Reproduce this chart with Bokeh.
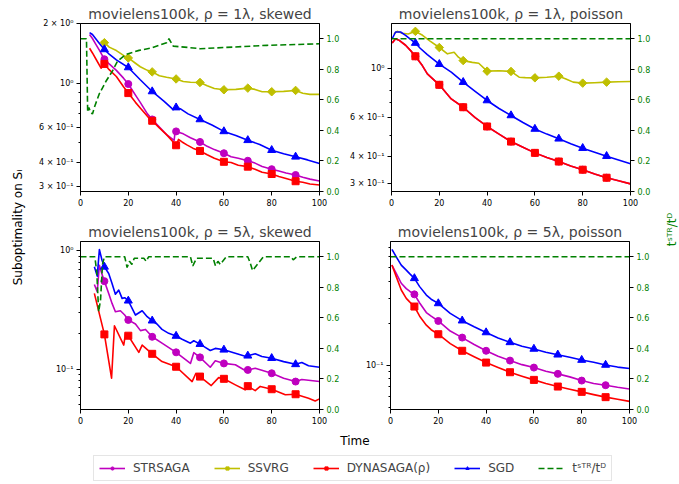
import numpy as np
from bokeh.plotting import figure
from bokeh.models import (Range1d, LinearAxis, LinearScale, FixedTicker, PrintfTickFormatter,
                          Legend, LegendItem)
from bokeh.layouts import row, column
from bokeh.embed import file_html
from bokeh.resources import INLINE
from bokeh.core.properties import value

FONT = "DejaVu Sans"
C_STR, C_SVRG, C_DYN, C_SGD, C_RATIO = "#bf00bf", "#bfbf00", "#ff0000", "#0000ff", "#008000"

TITLES = ["movielens100k, ρ = 1λ, skewed", "movielens100k, ρ = 1λ, poisson",
          "movielens100k, ρ = 5λ, skewed", "movielens100k, ρ = 5λ, poisson"]
XTICKS = [0, 20, 40, 60, 80, 100]
RTICKS = [0.0, 0.2, 0.4, 0.6, 0.8, 1.0]

# ---------------- top-left: rho=1, skewed ----------------
TL_STR_X = [3.8, 5, 6.3, 8, 10, 12, 15, 18, 20, 23, 25, 28, 30, 33, 36, 39.2, 39.6, 40, 43, 46, 50, 53, 56, 60, 63, 66, 70, 73, 76, 80, 83, 86, 90, 93, 96, 100]
TL_STR_Y = [1.76, 1.68, 1.58, 1.46, 1.32, 1.25, 1.16, 1.06, 0.99, 0.87, 0.80, 0.70, 0.656, 0.60, 0.55, 0.515, 0.573, 0.571, 0.555, 0.53, 0.505, 0.48, 0.462, 0.443, 0.425, 0.418, 0.406, 0.395, 0.38, 0.368, 0.36, 0.352, 0.344, 0.335, 0.328, 0.321]
TL_SVRG_X = [8.5, 10, 12, 15, 18, 20, 23, 25, 28, 30, 33, 36, 40, 43, 46, 50, 53, 56, 60, 65, 70, 73, 76, 80, 85, 90, 93, 96, 100]
TL_SVRG_Y = [1.63, 1.60, 1.52, 1.46, 1.38, 1.34, 1.26, 1.21, 1.16, 1.14, 1.09, 1.07, 1.05, 1.02, 1.01, 1.008, 0.97, 0.94, 0.926, 0.93, 0.944, 0.93, 0.905, 0.905, 0.909, 0.919, 0.89, 0.878, 0.878]
TL_DYN_X = [3.8, 5, 6.5, 8.6, 9.3, 10, 12, 15, 18, 20, 23, 25, 28, 30, 33, 36, 40, 41, 42.5, 44.5, 47, 50, 53, 56, 60, 63, 66, 70, 73, 76, 80, 83, 86, 90, 93, 96, 100]
TL_DYN_Y = [1.50, 1.42, 1.32, 1.19, 1.22, 1.25, 1.17, 1.08, 0.96, 0.891, 0.80, 0.75, 0.68, 0.646, 0.595, 0.55, 0.486, 0.52, 0.505, 0.488, 0.47, 0.455, 0.435, 0.418, 0.401, 0.398, 0.385, 0.379, 0.368, 0.355, 0.348, 0.338, 0.33, 0.32, 0.316, 0.31, 0.306]
TL_SGD_X = [3.8, 5, 6.3, 8, 10, 12, 15, 20, 25, 30, 35, 38.8, 40, 42, 45, 50, 55, 60, 65, 70, 75, 80, 85, 90, 95, 100]
TL_SGD_Y = [1.80, 1.76, 1.68, 1.58, 1.48, 1.40, 1.31, 1.20, 1.04, 0.908, 0.81, 0.735, 0.753, 0.74, 0.70, 0.656, 0.615, 0.571, 0.545, 0.515, 0.49, 0.459, 0.44, 0.425, 0.41, 0.393]
TL_RAT_X = [0, 2.5, 3.0, 3.5, 4.2, 5.0, 6.0, 7.8, 10.6, 13.4, 15.5, 19, 24.5, 30, 36, 37, 38.8, 45, 50, 64, 78, 100]
TL_RAT_Y = [1.0, 1.0, 0.52, 0.55, 0.52, 0.507, 0.56, 0.637, 0.72, 0.79, 0.854, 0.898, 0.924, 0.941, 0.974, 1.0, 0.952, 0.943, 0.935, 0.946, 0.957, 0.967]

# ---------------- top-right: rho=1, poisson ----------------
TR_DYN_X = [0.3, 1.7, 3.1, 5.9, 8, 10, 12.9, 15, 20, 25, 30, 35, 40, 45, 50, 55, 60, 65, 70, 75, 80, 85, 90, 95, 100]
TR_DYN_Y = [1.31, 1.37, 1.35, 1.28, 1.21, 1.14, 1.035, 0.949, 0.846, 0.73, 0.669, 0.60, 0.547, 0.505, 0.467, 0.44, 0.415, 0.395, 0.379, 0.362, 0.348, 0.333, 0.320, 0.31, 0.300]
TR_STR_X = [0.3, 1.7, 3.1, 5.9, 8, 10, 12.9, 15, 20, 25, 30, 35, 40, 45, 50, 55, 60, 65, 70, 75, 80, 85, 90, 95, 100]
TR_STR_Y = [1.31, 1.37, 1.35, 1.28, 1.21, 1.14, 1.035, 0.949, 0.846, 0.73, 0.669, 0.60, 0.547, 0.505, 0.467, 0.44, 0.415, 0.395, 0.379, 0.362, 0.348, 0.333, 0.320, 0.31, 0.300]
TR_SVRG_X = [1, 2.4, 4.5, 7, 10, 13, 16, 20, 23.4, 26.2, 28, 30, 33.8, 36.5, 40, 45, 50, 53.4, 56, 60, 65, 70, 73, 76, 80, 85, 90, 95, 100]
TR_SVRG_Y = [1.44, 1.48, 1.45, 1.44, 1.48, 1.42, 1.34, 1.25, 1.17, 1.19, 1.13, 1.09, 1.07, 1.06, 0.976, 0.98, 0.973, 0.916, 0.912, 0.910, 0.915, 0.926, 0.90, 0.87, 0.861, 0.865, 0.87, 0.873, 0.876]
TR_SGD_X = [0.3, 1.7, 3.8, 5.9, 8, 10, 12, 15, 20, 25, 30, 35, 40, 45, 50, 55, 60, 65, 70, 75, 80, 85, 90, 95, 100]
TR_SGD_Y = [1.37, 1.47, 1.47, 1.42, 1.36, 1.31, 1.24, 1.16, 1.05, 0.966, 0.87, 0.79, 0.718, 0.66, 0.614, 0.57, 0.533, 0.505, 0.481, 0.457, 0.436, 0.418, 0.401, 0.385, 0.370]
TR_RAT_X = [0, 100]
TR_RAT_Y = [1.0, 1.0]

# ---------------- bottom-left: rho=5, skewed ----------------
BL_STR_X = [5.8, 7, 7.9, 9.1, 10, 11.8, 13.2, 14.6, 16.7, 18.5, 20, 23, 25.1, 27.2, 30, 34.1, 40, 46, 47.4, 50, 54.3, 56.4, 60, 64.8, 68.9, 70, 73.1, 80, 85, 90, 92.6, 100]
BL_STR_Y = [0.52, 0.451, 0.757, 0.624, 0.555, 0.437, 0.36, 0.306, 0.312, 0.287, 0.261, 0.241, 0.212, 0.217, 0.188, 0.166, 0.139, 0.112, 0.138, 0.126, 0.104, 0.118, 0.112, 0.109, 0.0975, 0.0987, 0.102, 0.0925, 0.084, 0.0787, 0.082, 0.0787]
BL_DYN_X = [5.8, 10, 13, 14.2, 18.1, 18.8, 20, 24.4, 25.8, 30, 34.1, 40, 46.7, 48.3, 50, 54.7, 57.8, 60, 64.8, 68.9, 70, 73.1, 75.2, 80, 85.7, 90, 95.4, 98.2, 100]
BL_DYN_Y = [0.437, 0.197, 0.084, 0.233, 0.160, 0.199, 0.192, 0.139, 0.160, 0.135, 0.116, 0.105, 0.0787, 0.0925, 0.0867, 0.0728, 0.085, 0.083, 0.0738, 0.067, 0.072, 0.066, 0.0716, 0.0678, 0.0608, 0.0615, 0.057, 0.054, 0.0562]
BL_SGD_X = [5.8, 7, 7.9, 9, 10, 11.8, 13.2, 14.6, 16, 17.4, 18.5, 20, 21.6, 23, 25.8, 27.9, 30, 32, 34.1, 36.9, 40, 42.5, 46, 47.4, 50, 52.2, 54.3, 56.4, 60, 63.4, 68.9, 70, 73.1, 75.9, 80, 85, 90, 92.6, 95.4, 100]
BL_SGD_Y = [0.733, 0.612, 1.026, 0.834, 0.733, 0.644, 0.531, 0.431, 0.466, 0.397, 0.402, 0.379, 0.327, 0.287, 0.312, 0.278, 0.257, 0.241, 0.217, 0.201, 0.191, 0.179, 0.166, 0.174, 0.163, 0.153, 0.144, 0.150, 0.146, 0.139, 0.129, 0.130, 0.135, 0.128, 0.124, 0.116, 0.110, 0.114, 0.107, 0.104]
BL_RAT_X = [0, 6.0, 6.8, 7.6, 8.4, 9.2, 10, 18.5, 19.5, 20.5, 21.5, 22.5, 26.5, 27.5, 28.5, 46, 47, 48.5, 55.5, 56.5, 57.5, 58.5, 59.5, 61, 70, 71, 72, 73, 74.5, 76.5, 88, 89, 90.5, 100]
BL_RAT_Y = [1.0, 1.0, 0.9, 0.64, 0.72, 0.95, 1.0, 1.0, 0.93, 0.97, 0.95, 0.99, 0.99, 0.97, 1.0, 1.0, 0.94, 0.99, 0.99, 0.94, 0.97, 0.95, 0.97, 1.0, 1.0, 0.96, 0.91, 0.93, 0.96, 1.0, 1.0, 0.98, 1.0, 1.0]

# ---------------- bottom-right: rho=5, poisson ----------------
BR_X = [0.6, 2.4, 4.5, 6.6, 8, 10, 12.2, 15, 17, 20, 25, 30, 35, 40, 45, 50, 55, 60, 65, 70, 75, 80, 85, 90, 95, 100]
BR_STR_Y = [0.524, 0.457, 0.388, 0.355, 0.34, 0.323, 0.28, 0.239, 0.225, 0.208, 0.176, 0.158, 0.141, 0.127, 0.116, 0.108, 0.101, 0.0962, 0.0905, 0.0867, 0.0825, 0.0776, 0.074, 0.0719, 0.0695, 0.0676]
BR_DYN_Y = [0.524, 0.433, 0.347, 0.302, 0.285, 0.264, 0.225, 0.194, 0.18, 0.167, 0.143, 0.127, 0.115, 0.1045, 0.0965, 0.0891, 0.0835, 0.0785, 0.074, 0.0703, 0.0672, 0.0644, 0.0615, 0.059, 0.057, 0.055]
BR_SGD_Y = [0.679, 0.601, 0.524, 0.482, 0.455, 0.421, 0.367, 0.319, 0.298, 0.278, 0.236, 0.209, 0.189, 0.172, 0.157, 0.146, 0.137, 0.131, 0.124, 0.119, 0.114, 0.109, 0.105, 0.1005, 0.097, 0.0947]
BR_RAT_X = [0, 100]
BR_RAT_Y = [1.0, 1.0]

STYLE = {
    "STRSAGA": (C_STR, "circle", 7, 0.0),
    "SSVRG": (C_SVRG, "square", 6, np.pi / 4),
    "DYNASAGA(ρ)": (C_DYN, "square", 7, 0.0),
    "SGD": (C_SGD, "triangle", 8, 0.0),
}
PROXY = {"STRSAGA": (TL_STR_X, TL_STR_Y), "SSVRG": (TL_SVRG_X, TL_SVRG_Y),
         "DYNASAGA(ρ)": (TL_DYN_X, TL_DYN_Y), "SGD": (TL_SGD_X, TL_SGD_Y)}

TOP = 23      # space above each frame (title)
B1 = 27       # space below the top-row frames
B2 = 21       # space below the bottom-row frames
FW, FH = 239, 168


def style_axis(ax, color="black"):
    ax.major_label_text_font = FONT
    ax.major_label_text_font_size = "8px"
    ax.major_label_text_color = color
    ax.major_tick_in = 0
    ax.major_tick_out = 4
    ax.minor_tick_in = 0
    ax.minor_tick_out = 2
    ax.major_label_standoff = 3
    ax.axis_line_color = "black"
    ax.major_tick_line_color = "black"
    ax.minor_tick_line_color = "black"


def add_series(p, name, x, y):
    color, marker, size, angle = STYLE[name]
    p.line(x, y, color=color, line_width=1.6, line_join="round")
    pts = [(a, b) for a, b in zip(x, y) if 10 <= a <= 90 and float(a) % 10 == 0]
    p.scatter([a for a, _ in pts], [b for _, b in pts], marker=marker, size=size,
              color=color, angle=angle)


def make_panel(title, yr, yticks, ylabels, yminor, series, rx, ry, ml, mr, mb):
    p = figure(frame_width=FW, frame_height=FH, x_range=Range1d(0, 100),
               y_range=Range1d(*yr), y_axis_type="log", output_backend="svg",
               toolbar_location=None, min_border_left=ml, min_border_right=mr,
               min_border_top=TOP, min_border_bottom=mb)
    p.title.text = title
    p.title.align = "center"
    p.title.text_font = FONT
    p.title.text_font_size = "14px"
    p.title.text_font_style = "normal"
    p.title.standoff = 4
    p.grid.visible = False
    p.outline_line_color = "black"
    p.xaxis.ticker = FixedTicker(ticks=XTICKS, minor_ticks=[])
    p.yaxis.ticker = FixedTicker(ticks=yticks, minor_ticks=yminor)
    p.yaxis.major_label_overrides = {float(t): l for t, l in zip(yticks, ylabels)}
    style_axis(p.xaxis[0])
    style_axis(p.yaxis[0])
    for name, x, y in series:
        add_series(p, name, x, y)
    p.extra_y_ranges = {"ratio": Range1d(0, 1.1)}
    p.extra_y_scales = {"ratio": LinearScale()}
    ax = LinearAxis(y_range_name="ratio", ticker=FixedTicker(ticks=RTICKS, minor_ticks=[]),
                    formatter=PrintfTickFormatter(format="%.1f"))
    style_axis(ax, C_RATIO)
    p.add_layout(ax, "right")
    p.line(rx, ry, y_range_name="ratio", color=C_RATIO, line_width=1.6, line_dash="6 3")
    return p


tl = make_panel(TITLES[0], (0.284, 2.0), [0.3, 0.4, 0.6, 1.0, 2.0],
                ["3 × 10⁻¹", "4 × 10⁻¹", "6 × 10⁻¹", "10⁰", "2 × 10⁰"], [0.5, 0.7, 0.8, 0.9],
                [("STRSAGA", TL_STR_X, TL_STR_Y), ("SSVRG", TL_SVRG_X, TL_SVRG_Y),
                 ("DYNASAGA(ρ)", TL_DYN_X, TL_DYN_Y), ("SGD", TL_SGD_X, TL_SGD_Y)],
                TL_RAT_X, TL_RAT_Y, 50, 28, B1)
tr = make_panel(TITLES[1], (0.277, 1.607), [0.3, 0.4, 0.6, 1.0],
                ["3 × 10⁻¹", "4 × 10⁻¹", "6 × 10⁻¹", "10⁰"], [0.5, 0.7, 0.8, 0.9],
                [("STRSAGA", TR_STR_X, TR_STR_Y), ("SSVRG", TR_SVRG_X, TR_SVRG_Y),
                 ("DYNASAGA(ρ)", TR_DYN_X, TR_DYN_Y), ("SGD", TR_SGD_X, TR_SGD_Y)],
                TR_RAT_X, TR_RAT_Y, 43, 30, B1)
bl = make_panel(TITLES[2], (0.0457, 1.20), [0.1, 1.0], ["10⁻¹", "10⁰"],
                [0.05, 0.06, 0.07, 0.08, 0.09, 0.2, 0.3, 0.4, 0.5, 0.6, 0.7, 0.8, 0.9],
                [("STRSAGA", BL_STR_X, BL_STR_Y), ("DYNASAGA(ρ)", BL_DYN_X, BL_DYN_Y),
                 ("SGD", BL_SGD_X, BL_SGD_Y)],
                BL_RAT_X, BL_RAT_Y, 50, 28, B2)
br = make_panel(TITLES[3], (0.0481, 0.774), [0.1], ["10⁻¹"],
                [0.05, 0.06, 0.07, 0.08, 0.09, 0.2, 0.3, 0.4, 0.5, 0.6, 0.7],
                [("STRSAGA", BR_X, BR_STR_Y), ("DYNASAGA(ρ)", BR_X, BR_DYN_Y),
                 ("SGD", BR_X, BR_SGD_Y)],
                BR_RAT_X, BR_RAT_Y, 43, 30, B2)

GRID_H = (TOP + FH + B1) + (TOP + FH + B2)


def strip(w, h):
    s = figure(width=w, height=h, x_range=Range1d(0, w), y_range=Range1d(0, h),
               x_axis_type=None, y_axis_type=None, min_border=0,
               toolbar_location=None, output_backend="svg")
    s.outline_line_color = None
    s.grid.visible = False
    return s


LEFT_W, RIGHT_W = 30, 20
left = strip(LEFT_W, GRID_H)
left.text(x=[17], y=[GRID_H - 227], text=["Suboptimality on Sᵢ"], angle=np.pi / 2,
          text_align="center", text_baseline="middle", text_font=value(FONT),
          text_font_size="12px", text_color="black")
right = strip(RIGHT_W, GRID_H)
right.text(x=[11], y=[GRID_H - 229], text=["tˢᵀᴿ/tᴰ"], angle=np.pi / 2,
           text_align="center", text_baseline="middle", text_font=value(FONT),
           text_font_size="12px", text_color=C_RATIO)

TOTAL_W = LEFT_W + (50 + FW + 28) + (43 + FW + 30) + RIGHT_W
BOT_H = 484 - GRID_H
bot = strip(TOTAL_W, BOT_H)
bot.text(x=[354.5], y=[BOT_H - 10], text=["Time"], text_align="center",
         text_baseline="middle", text_font=value(FONT), text_font_size="12px",
         text_color="black")
# legend proxies: real series drawn on a range that keeps them off the canvas
bot.extra_y_ranges = {"proxy": Range1d(-10, -9)}
items = []
for name in ["STRSAGA", "SSVRG", "DYNASAGA(ρ)", "SGD"]:
    color, marker, size, angle = STYLE[name]
    px, py = PROXY[name]
    l = bot.line(px, py, color=color, line_width=1.6, y_range_name="proxy")
    s = bot.scatter(px, py, marker=marker, size=size, color=color, angle=angle,
                    y_range_name="proxy")
    items.append(LegendItem(label=name, renderers=[l, s]))
g = bot.line(TL_RAT_X, TL_RAT_Y, color=C_RATIO, line_width=1.6, line_dash="6 3",
             y_range_name="proxy")
items.append(LegendItem(label="tˢᵀᴿ/tᴰ", renderers=[g]))
leg = Legend(items=items, orientation="horizontal", location=(93, 3),
             glyph_width=26, glyph_height=8, label_height=14, label_standoff=8,
             spacing=24, padding=5, margin=0, label_text_font=FONT,
             label_text_font_size="12px", border_line_color="#cccccc",
             border_line_width=1, background_fill_color="white")
bot.add_layout(leg, "center")

grid = column(row(tl, tr), row(bl, br))
page = column(row(left, grid, right), bot)

open("out.html", "w").write(file_html(page, INLINE))
